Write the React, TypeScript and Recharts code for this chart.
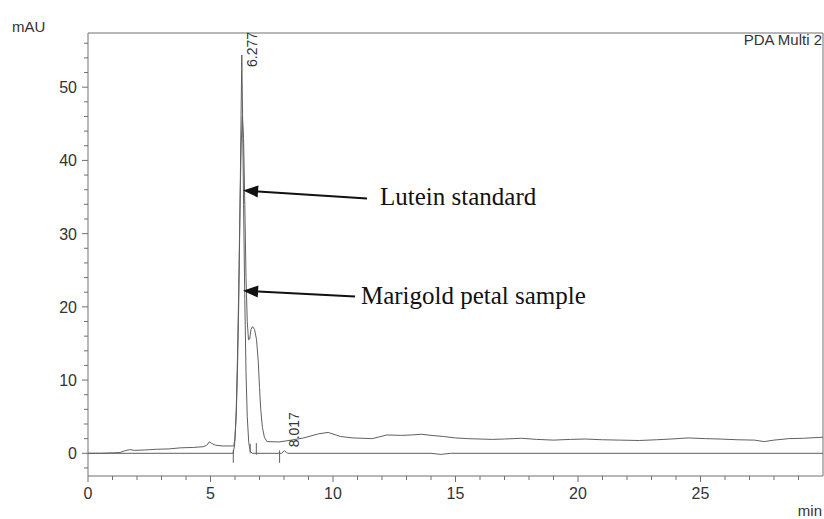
import React from 'react'
import { LineChart, Line, XAxis, YAxis, ReferenceLine, ReferenceDot } from 'recharts'

// retention time (min) / absorbance (mAU)
const sampleTime = [
  0, 0.5, 1.0, 1.3, 1.5, 1.7, 1.9, 2.3, 2.8, 3.3, 3.8, 4.3, 4.7, 4.85, 4.95, 5.05, 5.2, 5.5, 5.8, 5.95,
  6.0, 6.05, 6.1, 6.15, 6.2, 6.25, 6.3, 6.35, 6.4, 6.45, 6.5, 6.55, 6.6, 6.65, 6.72, 6.8, 6.88, 6.95,
  7.0, 7.05, 7.12, 7.2, 7.3, 7.8, 8.3, 8.8, 9.4, 9.8, 10.3, 10.8, 11.6, 12.2, 12.8, 13.2, 13.6, 14.0,
  14.5, 15.0, 15.5, 16.0, 16.5, 17.0, 17.7, 18.3, 19.0, 19.7, 20.3, 21.0, 21.7, 22.5, 23.2, 23.8, 24.5,
  25.2, 25.8, 26.5, 27.2, 27.6, 28.0, 28.6, 29.2, 30,
]
const sampleAbs = [
  0, 0, 0.05, 0.1, 0.35, 0.5, 0.4, 0.45, 0.55, 0.6, 0.75, 0.8, 0.9, 1.1, 1.55, 1.35, 1.1, 1.0, 1.0, 1.0,
  2, 6, 13, 22, 33, 42, 46, 43, 34, 24, 18, 15.5, 15.6, 16.9, 17.3, 16.9, 15.5, 12.5,
  9, 6, 3.5, 2.2, 1.6, 1.55, 1.8, 2.1, 2.65, 2.85, 2.3, 2.1, 2.0, 2.5, 2.45, 2.5, 2.6, 2.45,
  2.3, 2.1, 2.0, 1.95, 1.9, 1.95, 2.05, 1.9, 1.8, 1.9, 1.95, 1.85, 1.8, 1.75, 1.85, 1.95, 2.1,
  2.0, 1.95, 1.85, 1.8, 1.6, 1.8, 2.0, 2.05, 2.2,
]

const standardTime = [
  0, 5.92, 5.98, 6.05, 6.1, 6.15, 6.2, 6.24, 6.277, 6.31, 6.35, 6.4, 6.45, 6.5, 6.56, 6.62, 6.7,
  7.9, 8.017, 8.15, 14.0, 14.4, 14.8, 30,
]
const standardAbs = [
  0, 0, 1, 5, 11, 20, 32, 44, 54.4, 46, 34, 21, 11, 5, 1.5, 0.3, 0,
  0, 0.35, 0, 0, -0.15, 0, 0,
]

const yTicks = [-2, 0, 2, 4, 6, 8, 10, 12, 14, 16, 18, 20, 22, 24, 26, 28, 30, 32, 34, 36, 38, 40, 42, 44, 46, 48, 50, 52, 54, 56]
const xTicks = [0, 1, 2, 3, 4, 5, 6, 7, 8, 9, 10, 11, 12, 13, 14, 15, 16, 17, 18, 19, 20, 21, 22, 23, 24, 25, 26, 27, 28, 29]

const sampleData = sampleTime.map((t, i) => ({ t, v: sampleAbs[i] }))
const standardData = standardTime.map((t, i) => ({ t, v: standardAbs[i] }))

const AXIS = '#707070'
const TRACE = '#606060'
const SANS = '"Liberation Sans", Arial, sans-serif'
const SERIF = '"Liberation Serif", "Times New Roman", serif'

const YTick = ({ x, y, payload }: any) => {
  const major = payload.value % 10 === 0
  return (
    <g>
      <line x1={x - (major ? 6 : 4)} x2={x} y1={y} y2={y} stroke={AXIS} />
      {major && (
        <text x={x - 11} y={y + 6} textAnchor="end" fontSize={16} fontFamily={SANS} fill="#333">
          {payload.value}
        </text>
      )}
    </g>
  )
}

const XTick = ({ x, y, payload }: any) => {
  const major = payload.value % 5 === 0
  return (
    <g>
      <line x1={x} x2={x} y1={y} y2={y + (major ? 6 : 4)} stroke={AXIS} />
      {major && (
        <text x={x} y={y + 23} textAnchor="middle" fontSize={16} fontFamily={SANS} fill="#333">
          {payload.value}
        </text>
      )}
    </g>
  )
}

const Arrow = (props: any) => {
  const { x1, y1, x2, y2 } = props
  // x1,y1 = tip ; x2,y2 = tail
  const ang = Math.atan2(y1 - y2, x1 - x2)
  const len = 15
  const w = 6
  const bx = x1 - len * Math.cos(ang)
  const by = y1 - len * Math.sin(ang)
  const px = -Math.sin(ang) * w
  const py = Math.cos(ang) * w
  return (
    <g>
      <line x1={bx} y1={by} x2={x2} y2={y2} stroke="#111" strokeWidth={2} />
      <polygon points={`${x1},${y1} ${bx + px},${by + py} ${bx - px},${by - py}`} fill="#111" />
    </g>
  )
}

const note = (txt: string) => (p: any) => (
  <text x={p.cx} y={p.cy} fontSize={25} fontFamily={SERIF} fill="#111">
    {txt}
  </text>
)

const peakLabel = (txt: string, dx: number, dy: number) => (p: any) => {
  const x = p.cx + dx
  const y = p.cy + dy
  return (
    <text x={x} y={y} transform={`rotate(-90 ${x} ${y})`} fontSize={14} fontFamily={SANS} fill="#333">
      {txt}
    </text>
  )
}

export default function App() {
  return (
    <div style={{ position: 'absolute', left: 0, top: 0, width: 824, height: 519, background: '#fff' }}>
      <LineChart width={824} height={519} margin={{ top: 33, right: 1, bottom: 0, left: 0 }}>
        <XAxis
          dataKey="t"
          type="number"
          domain={[0, 30]}
          ticks={xTicks}
          interval={0}
          tick={<XTick />}
          tickLine={false}
          tickSize={0}
          tickMargin={0}
          height={43}
          stroke={AXIS}
          allowDataOverflow
        />
        <YAxis
          type="number"
          domain={[-3.1, 57.4]}
          ticks={yTicks}
          interval={0}
          tick={<YTick />}
          tickLine={false}
          tickSize={0}
          tickMargin={0}
          width={88}
          stroke={AXIS}
          allowDataOverflow
        />
        <ReferenceLine y={57.4} stroke={AXIS} />
        <ReferenceLine x={30} stroke={AXIS} />

        <Line data={standardData} dataKey="v" type="linear" stroke={TRACE} strokeWidth={1} dot={false} isAnimationActive={false} />
        <Line data={sampleData} dataKey="v" type="linear" stroke={TRACE} strokeWidth={1} dot={false} isAnimationActive={false} />

        {/* integration marks */}
        <ReferenceLine segment={[{ x: 5.93, y: 0.4 }, { x: 5.93, y: -1.3 }]} stroke={TRACE} />
        <ReferenceLine segment={[{ x: 7.82, y: 0.4 }, { x: 7.82, y: -1.3 }]} stroke={TRACE} />
        <ReferenceLine segment={[{ x: 6.62, y: 1.3 }, { x: 6.62, y: 0 }]} stroke={TRACE} />
        <ReferenceLine segment={[{ x: 6.87, y: 1.4 }, { x: 6.87, y: -0.2 }]} stroke={TRACE} />

        <ReferenceDot x={6.277} y={54.4} r={0} shape={peakLabel('6.277', 15.5, 12)} />
        <ReferenceDot x={8.017} y={0.35} r={0} shape={peakLabel('8.017', 14.6, -3.6)} />

        <ReferenceLine segment={[{ x: 6.33, y: 35.9 }, { x: 11.39, y: 34.8 }]} shape={<Arrow />} />
        <ReferenceLine segment={[{ x: 6.33, y: 22.2 }, { x: 10.9, y: 21.4 }]} shape={<Arrow />} />
        <ReferenceDot x={11.92} y={33.9} r={0} shape={note('Lutein standard')} />
        <ReferenceDot x={11.14} y={20.4} r={0} shape={note('Marigold petal sample')} />
      </LineChart>
      <div style={{ position: 'absolute', left: 12, top: 18, fontSize: 15, fontFamily: SANS, color: '#333' }}>mAU</div>
      <div style={{ position: 'absolute', right: 2, top: 31, fontSize: 15, fontFamily: SANS, color: '#333' }}>PDA Multi 2</div>
      <div style={{ position: 'absolute', right: 2, top: 502, fontSize: 15, fontFamily: SANS, color: '#333' }}>min</div>
    </div>
  )
}
